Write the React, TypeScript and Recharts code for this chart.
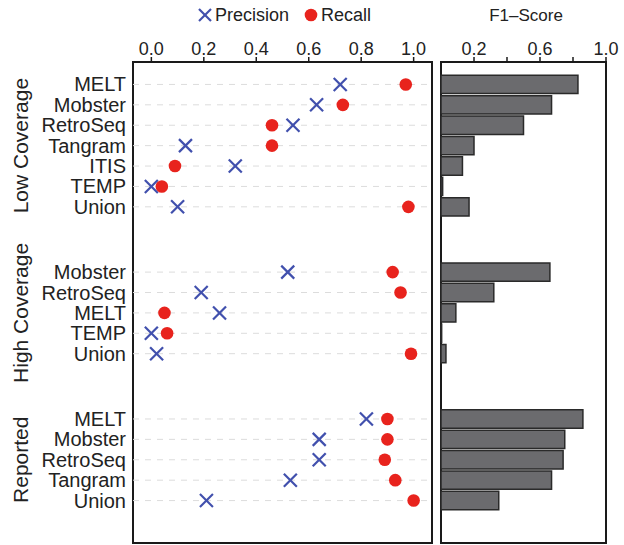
import React from "react";
import {
  ComposedChart,
  BarChart,
  Bar,
  Scatter,
  XAxis,
  YAxis,
  ReferenceLine,
  ReferenceArea,
} from "recharts";

const groupNames = ["Low Coverage", "High Coverage", "Reported"];

const lowTools = ["MELT", "Mobster", "RetroSeq", "Tangram", "ITIS", "TEMP", "Union"];
const lowPrecision = [0.72, 0.63, 0.54, 0.13, 0.32, 0.0, 0.1];
const lowRecall = [0.97, 0.73, 0.46, 0.46, 0.09, 0.04, 0.98];
const lowF1 = [0.83, 0.67, 0.5, 0.2, 0.13, 0.01, 0.17];

const highTools = ["Mobster", "RetroSeq", "MELT", "TEMP", "Union"];
const highPrecision = [0.52, 0.19, 0.26, 0.0, 0.02];
const highRecall = [0.92, 0.95, 0.05, 0.06, 0.99];
const highF1 = [0.66, 0.32, 0.09, 0.004, 0.03];

const reportedTools = ["MELT", "Mobster", "RetroSeq", "Tangram", "Union"];
const reportedPrecision = [0.82, 0.64, 0.64, 0.53, 0.21];
const reportedRecall = [0.9, 0.9, 0.89, 0.93, 1.0];
const reportedF1 = [0.86, 0.75, 0.74, 0.67, 0.35];

const scoreTicks = [0, 0.2, 0.4, 0.6, 0.8, 1.0];
const f1Ticks = [0.2, 0.4, 0.6, 0.8, 1.0];
const f1Labels = [0.2, 0.6, 1.0];

const scoreDomain = [-0.07, 1.07];
const f1Domain = [0, 1];
// row slots, top to bottom (gap between groups measured in row slots)
const GROUP_GAP = 3.2;
const rowDomain = [-1.1, 22.48];

const BLUE = "#4150ad";
const RED = "#e8231d";
const INK = "#1a1a1a";

type Row = {
  pos: number;
  tool: string;
  group: string;
  precision: number;
  recall: number;
  f1: number;
};

const blocks = [
  { tools: lowTools, p: lowPrecision, r: lowRecall, f: lowF1 },
  { tools: highTools, p: highPrecision, r: highRecall, f: highF1 },
  { tools: reportedTools, p: reportedPrecision, r: reportedRecall, f: reportedF1 },
];

const rows: Row[] = [];
let slot = 0;
blocks.forEach((b, gi) => {
  if (gi > 0) slot += GROUP_GAP - 1;
  const mid = Math.floor(b.tools.length / 2);
  b.tools.forEach((t, i) => {
    rows.push({
      pos: Math.round(slot * 100) / 100,
      tool: t,
      group: i === mid ? groupNames[gi] : "",
      precision: b.p[i],
      recall: b.r[i],
      f1: b.f[i],
    });
    slot += 1;
  });
});
const rowTicks = rows.map((r) => r.pos);

const RowTick = (props: any) => {
  const { x, y, payload } = props;
  const row = rows.find((r) => Math.abs(r.pos - payload.value) < 1e-6);
  if (!row) return <g />;
  return (
    <g>
      <text x={x} y={y} textAnchor="end" dominantBaseline="central" fontSize={20} fill="#222">
        {row.tool}
      </text>
      {row.group && (
        <text
          transform={`translate(20, ${y}) rotate(-90)`}
          textAnchor="middle"
          dominantBaseline="central"
          fontSize={21}
          fill="#222"
        >
          {row.group}
        </text>
      )}
    </g>
  );
};

const Cross = (props: any) => {
  const { cx, cy } = props;
  if (cx == null || cy == null) return <g />;
  const s = 6.5;
  return (
    <g stroke={BLUE} strokeWidth={2.2}>
      <line x1={cx - s} y1={cy - s} x2={cx + s} y2={cy + s} />
      <line x1={cx - s} y1={cy + s} x2={cx + s} y2={cy - s} />
    </g>
  );
};

const Dot = (props: any) => {
  const { cx, cy } = props;
  if (cx == null || cy == null) return <g />;
  return <circle cx={cx} cy={cy} r={6.3} fill={RED} />;
};

export default function App() {
  return (
    <div
      style={{
        position: "absolute",
        left: 0,
        top: 0,
        width: 624,
        height: 545,
        background: "#fff",
        fontFamily: "'Liberation Sans', Arial, sans-serif",
      }}
    >
      <svg width={624} height={32} style={{ position: "absolute", left: 0, top: 0 }}>
        <g stroke={BLUE} strokeWidth={2.2}>
          <line x1={199} y1={9} x2={211} y2={21} />
          <line x1={199} y1={21} x2={211} y2={9} />
        </g>
        <text x={215} y={15} dominantBaseline="central" fontSize={18} fill="#222">
          Precision
        </text>
        <circle cx={311} cy={15} r={6.3} fill={RED} />
        <text x={321} y={15} dominantBaseline="central" fontSize={18} fill="#222">
          Recall
        </text>
        <text x={526} y={15} textAnchor="middle" dominantBaseline="central" fontSize={17} fill="#222">
          F1–Score
        </text>
      </svg>

      <div style={{ position: "absolute", left: 0, top: 0 }}>
        <ComposedChart
          width={440}
          height={545}
          data={rows}
          layout="vertical"
          margin={{ top: 32, right: 8, bottom: 2, left: 0 }}
        >
          <XAxis
            type="number"
            orientation="top"
            domain={scoreDomain}
            ticks={scoreTicks}
            tickFormatter={(v: number) => v.toFixed(1)}
            height={30}
            axisLine={false}
            tickLine={{ stroke: INK, strokeWidth: 1.5 }}
            tickSize={5}
            tickMargin={2}
            tick={{ fontSize: 18, fill: "#222" }}
          />
          <YAxis
            type="number"
            dataKey="pos"
            domain={rowDomain}
            ticks={rowTicks}
            interval={0}
            width={133}
            axisLine={false}
            tickLine={false}
            tickSize={0}
            tickMargin={7}
            tick={RowTick}
          />
          {rows.map((r) => (
            <ReferenceLine key={r.pos} y={r.pos} stroke="#dcdcdc" strokeDasharray="6 6" strokeWidth={1} />
          ))}
          <ReferenceArea
            x1={scoreDomain[0]}
            x2={scoreDomain[1]}
            y1={rowDomain[0]}
            y2={rowDomain[1]}
            fill="none"
            fillOpacity={0}
            stroke={INK}
            strokeWidth={2}
          />
          <Scatter dataKey="precision" shape={Cross} isAnimationActive={false} />
          <Scatter dataKey="recall" shape={Dot} isAnimationActive={false} />
        </ComposedChart>
      </div>

      <div style={{ position: "absolute", left: 436, top: 0 }}>
        <BarChart
          width={188}
          height={545}
          data={rows}
          layout="vertical"
          barCategoryGap={0}
          margin={{ top: 32, right: 18, bottom: 2, left: 5 }}
        >
          <XAxis
            type="number"
            orientation="top"
            domain={f1Domain}
            ticks={f1Ticks}
            tickFormatter={(v: number) => (f1Labels.includes(v) ? v.toFixed(1) : "")}
            height={30}
            axisLine={false}
            tickLine={{ stroke: INK, strokeWidth: 1.5 }}
            tickSize={5}
            tickMargin={2}
            tick={{ fontSize: 18, fill: "#222" }}
          />
          <YAxis type="number" dataKey="pos" domain={rowDomain} ticks={rowTicks} hide />
          <Bar
            dataKey="f1"
            barSize={20.4}
            fill="#6b6b6e"
            stroke="#2a2a2a"
            strokeWidth={1.5}
            isAnimationActive={false}
          />
          <ReferenceArea
            x1={f1Domain[0]}
            x2={f1Domain[1]}
            y1={rowDomain[0]}
            y2={rowDomain[1]}
            fill="none"
            fillOpacity={0}
            stroke={INK}
            strokeWidth={2}
          />
        </BarChart>
      </div>
    </div>
  );
}
